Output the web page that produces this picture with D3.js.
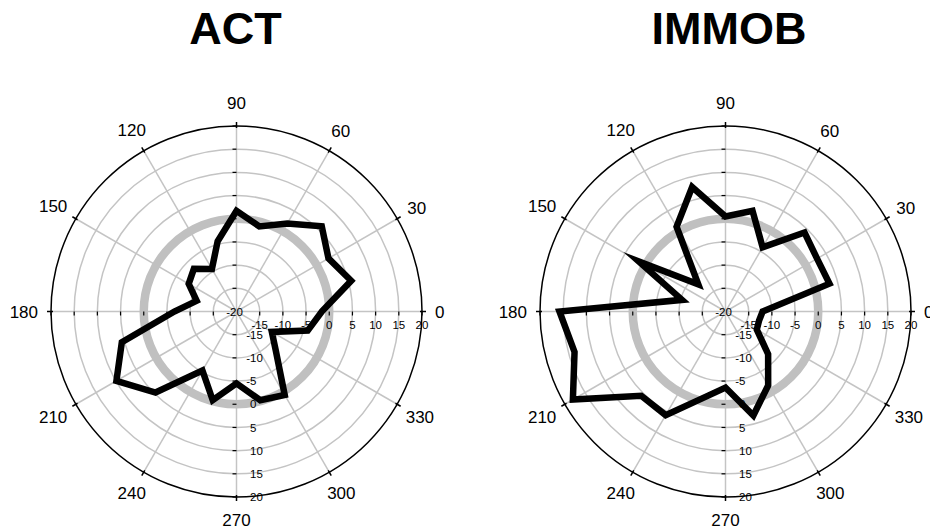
<!DOCTYPE html>
<html>
<head>
<meta charset="utf-8">
<script src="https://cdn.jsdelivr.net/npm/d3@7"></script>
<style>
  body { margin: 0; background: #fff; }
  svg { display: block; font-family: Arial, "Liberation Sans", sans-serif; }
</style>
</head>
<body>
<svg id="chart" width="930" height="531"></svg>
<script>
// Direction of each sample, degrees counter-clockwise from east
const directions = [0, 15, 30, 45, 60, 75, 90, 105, 120, 135, 150, 165,
                    180, 195, 210, 225, 240, 255, 270, 285, 300, 315, 330, 345];

// Radial values per direction
const actValues = [-1.6, 5.6, 2.9, 6.0, 1.9, -1.0, 1.7, -4.3, -9.4, -7.0, -8.1, -11.1,
                   -6.6, 5.6, 9.9, 4.7, -5.3, -0.2, -4.5, -0.2, 0.8, -8.0, -11.2, -4.1];
const immobValues = [-12.0, 3.2, 2.8, 4.1, -4.0, 2.5, 0.5, 7.8, 1.1, -11.7, 1.6, -10.3,
                     15.8, 13.7, 18.0, 5.7, 5.8, -0.6, -3.6, 3.2, -1.6, -7.0, -12.2, -12.5];

const panelTitles = ["ACT", "IMMOB"];
const angleTicks = [0, 30, 60, 90, 120, 150, 180, 210, 240, 270, 300, 330];
const radialTicks = [-15, -10, -5, 0, 5, 10, 15, 20];
const radialMin = -20;
const referenceLevel = 0;

const svg = d3.select("#chart");
const R = 185.5, cy = 311.5;
const gridColor = "#c4c4c4";
const smallFont = 11.5;

const r = d3.scaleLinear().domain([radialMin, 20]).range([0, R]);
const rad = deg => deg * Math.PI / 180;
// d3.lineRadial measures angles clockwise from north
const radialAngle = deg => rad(90 - deg);

// width of a hyphen in the small label font, so negative labels hang their sign
const probe = svg.append("text").attr("font-size", smallFont).text("-");
const hyphenW = probe.node().getComputedTextLength();
probe.remove();

function drawPanel(title, values, cx, titleX) {
  const g = svg.append("g").attr("transform", `translate(${cx},${cy})`);

  // concentric grid
  g.append("g").selectAll("circle")
    .data(radialTicks.filter(v => v < 20))
    .join("circle")
    .attr("r", d => r(d))
    .attr("fill", "none")
    .attr("stroke", gridColor)
    .attr("stroke-width", 1.5);

  // spokes
  g.append("g").selectAll("line")
    .data(angleTicks)
    .join("line")
    .attr("x1", 0).attr("y1", 0)
    .attr("x2", d => R * Math.cos(rad(d)))
    .attr("y2", d => -R * Math.sin(rad(d)))
    .attr("stroke", gridColor)
    .attr("stroke-width", 1.5);

  // reference ring
  g.append("circle")
    .attr("r", r(referenceLevel))
    .attr("fill", "none")
    .attr("stroke", "#c0c0c0")
    .attr("stroke-width", 8.5);

  // axis ticks: horizontal diameter (hanging down), vertical diameter (to the left)
  const ticks = g.append("g").attr("stroke", "#000").attr("stroke-width", 1.2);
  radialTicks.forEach(v => {
    [1, -1].forEach(s => {
      ticks.append("line").attr("x1", s * r(v)).attr("x2", s * r(v)).attr("y1", 0).attr("y2", 4);
      ticks.append("line").attr("y1", s * r(v)).attr("y2", s * r(v)).attr("x1", -4).attr("x2", 0);
    });
  });

  // radial labels along 0° and 270°
  const labels = g.append("g").attr("font-size", smallFont).attr("fill", "#000");
  labels.selectAll("text.h")
    .data(radialTicks)
    .join("text")
    .attr("class", "h")
    .attr("x", d => r(d))
    .attr("y", 17.8)
    .attr("text-anchor", "middle")
    .text(d => d);
  labels.selectAll("text.v")
    .data(radialTicks)
    .join("text")
    .attr("class", "v")
    .attr("x", d => 13.5 - (d < 0 ? hyphenW : 0))
    .attr("y", d => r(d) + 4.1)
    .text(d => d);
  labels.append("text")
    .attr("x", -2).attr("y", 4.1)
    .attr("text-anchor", "middle")
    .text(radialMin);

  // data polygon
  const line = d3.lineRadial()
    .angle((d, i) => radialAngle(directions[i]))
    .radius(d => r(d))
    .curve(d3.curveLinearClosed);
  g.append("path")
    .datum(values)
    .attr("d", line)
    .attr("fill", "none")
    .attr("stroke", "#000")
    .attr("stroke-width", 6.5)
    .attr("stroke-linejoin", "miter")
    .attr("stroke-miterlimit", 10);

  // outer boundary
  g.append("circle")
    .attr("r", R)
    .attr("fill", "none")
    .attr("stroke", "#000")
    .attr("stroke-width", 1.5);

  // angular ticks and labels
  g.append("g").selectAll("line")
    .data(angleTicks)
    .join("line")
    .attr("x1", d => (R - 2) * Math.cos(rad(d)))
    .attr("y1", d => -(R - 2) * Math.sin(rad(d)))
    .attr("x2", d => (R + 4) * Math.cos(rad(d)))
    .attr("y2", d => -(R + 4) * Math.sin(rad(d)))
    .attr("stroke", "#000")
    .attr("stroke-width", 1.5);

  const angLabels = g.append("g").attr("font-size", 17).attr("fill", "#000");
  angleTicks.forEach(a => {
    const t = angLabels.append("text").attr("text-anchor", "middle").text(a);
    const w = t.node().getComputedTextLength();
    const c = Math.cos(rad(a)), s = Math.sin(rad(a));
    const dist = R + 13 + Math.hypot(c * w / 2, s * 10);
    t.attr("x", dist * c).attr("y", -dist * s + 6.1);
  });

  // panel title
  svg.append("text")
    .attr("x", titleX)
    .attr("y", 44)
    .attr("text-anchor", "middle")
    .attr("font-size", 45)
    .attr("font-weight", "bold")
    .text(title);
}

drawPanel(panelTitles[0], actValues, 236.5, 235.5);
drawPanel(panelTitles[1], immobValues, 725.5, 729);
</script>
</body>
</html>
